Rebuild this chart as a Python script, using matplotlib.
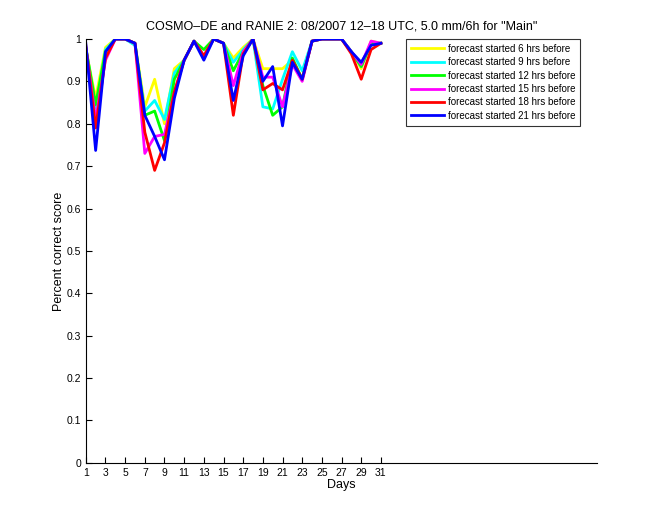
import numpy as np
import matplotlib
matplotlib.use("Agg")
import matplotlib.pyplot as plt

days = np.arange(1, 32)

# percent correct score per day
f6 = [0.975, 0.86, 0.98, 1.0, 1.0, 0.99, 0.84, 0.905, 0.80, 0.93, 0.95, 0.995, 0.96, 1.0, 0.99,
      0.955, 0.98, 1.0, 0.93, 0.93, 0.93, 0.95, 0.905, 0.995, 1.0, 1.0, 1.0, 0.97, 0.93, 0.995, 0.99]
f9 = [0.98, 0.837, 0.975, 1.0, 1.0, 0.985, 0.83, 0.855, 0.81, 0.92, 0.95, 0.995, 0.96, 1.0, 0.99,
      0.945, 0.975, 1.0, 0.84, 0.835, 0.905, 0.97, 0.925, 0.995, 1.0, 1.0, 1.0, 0.97, 0.935, 0.99, 0.99]
f12 = [0.98, 0.845, 0.97, 1.0, 1.0, 0.99, 0.82, 0.83, 0.76, 0.905, 0.95, 0.995, 0.975, 1.0, 0.99,
       0.925, 0.97, 1.0, 0.89, 0.82, 0.84, 0.955, 0.905, 0.995, 1.0, 1.0, 1.0, 0.97, 0.935, 0.99, 0.99]
f15 = [0.98, 0.81, 0.95, 1.0, 1.0, 0.99, 0.73, 0.77, 0.775, 0.875, 0.95, 0.995, 0.96, 1.0, 0.99,
       0.89, 0.97, 1.0, 0.91, 0.91, 0.84, 0.94, 0.90, 0.995, 1.0, 1.0, 1.0, 0.97, 0.94, 0.995, 0.99]
f18 = [0.985, 0.79, 0.955, 1.0, 1.0, 0.99, 0.78, 0.69, 0.755, 0.875, 0.95, 0.995, 0.96, 1.0, 0.99,
       0.82, 0.965, 1.0, 0.88, 0.895, 0.88, 0.95, 0.905, 0.995, 1.0, 1.0, 1.0, 0.965, 0.905, 0.975, 0.99]
f21 = [0.99, 0.737, 0.97, 1.0, 1.0, 0.99, 0.82, 0.77, 0.715, 0.86, 0.95, 0.995, 0.95, 1.0, 0.99,
       0.855, 0.96, 1.0, 0.90, 0.935, 0.795, 0.945, 0.905, 0.995, 1.0, 1.0, 1.0, 0.97, 0.945, 0.985, 0.99]

series = [f6, f9, f12, f15, f18, f21]
labels = ['forecast started 6 hrs before', 'forecast started 9 hrs before',
          'forecast started 12 hrs before', 'forecast started 15 hrs before',
          'forecast started 18 hrs before', 'forecast started 21 hrs before']
colors = ['#ffff00', '#00ffff', '#00ff00', '#ff00ff', '#ff0000', '#0000ff']

plt.rcParams['font.family'] = ['Liberation Sans', 'DejaVu Sans']

fig = plt.figure(figsize=(6.6, 5.2), dpi=100)
ax = fig.add_axes([0.13, 0.11, 0.775, 0.815])

for vals, lab, col in zip(series, labels, colors):
    ax.plot(days, vals, color=col, linewidth=2.0, label=lab)

ax.set_xlim(1, 53)
ax.set_ylim(0, 1)
ax.set_xticks(np.arange(1, 32, 2))
ax.set_yticks(np.arange(0, 1.01, 0.1))
ax.set_yticklabels(['0', '0.1', '0.2', '0.3', '0.4', '0.5', '0.6', '0.7', '0.8', '0.9', '1'])
ax.tick_params(direction='in', length=4, labelsize=7.5, width=0.8)
ax.spines['top'].set_visible(False)
ax.spines['right'].set_visible(False)

ax.set_xlabel('Days', fontsize=9, labelpad=1)
ax.set_ylabel('Percent correct score', fontsize=9, labelpad=1)
ax.set_title('COSMO\u2013DE and RANIE 2: 08/2007 12\u201318 UTC, 5.0 mm/6h for "Main"', fontsize=9, pad=7)

leg = ax.legend(loc='upper right', bbox_to_anchor=(580 / 660, 1 - 39 / 520),
                bbox_transform=fig.transFigure, fontsize=7, frameon=True,
                fancybox=False, edgecolor='black', handlelength=3.4, borderpad=0.5,
                labelspacing=0.35, handletextpad=0.4, borderaxespad=0)
leg.get_frame().set_linewidth(0.8)

fig.savefig('out.png', dpi=100)
